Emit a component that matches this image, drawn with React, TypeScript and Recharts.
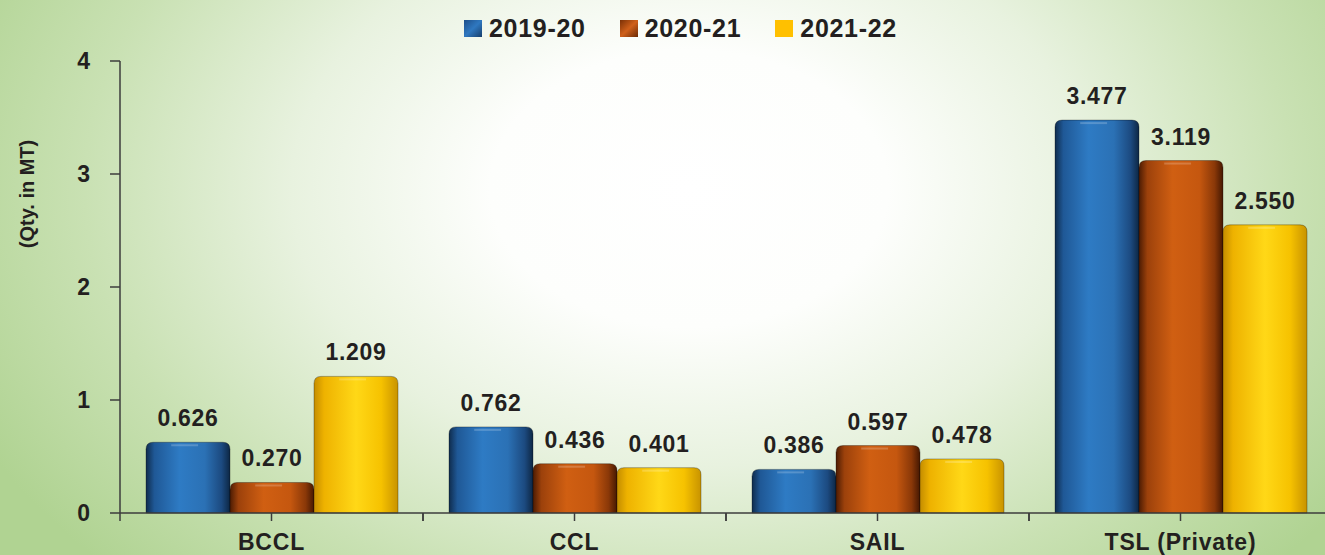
import React from "react";
import { BarChart, Bar, XAxis, YAxis, Legend, LabelList } from "recharts";

// coal washery production, qty in MT
const categories = ["BCCL", "CCL", "SAIL", "TSL (Private)"];
const fy2019 = [0.626, 0.762, 0.386, 3.477];
const fy2020 = [0.27, 0.436, 0.597, 3.119];
const fy2021 = [1.209, 0.401, 0.478, 2.55];
const yTicks = [0, 1, 2, 3, 4];

const series = [
  { key: "fy2019", name: "2019-20", grad: "gBlue" },
  { key: "fy2020", name: "2020-21", grad: "gOrange" },
  { key: "fy2021", name: "2021-22", grad: "gYellow" },
];

const data = categories.map((c, i) => ({
  name: c,
  fy2019: fy2019[i],
  fy2020: fy2020[i],
  fy2021: fy2021[i],
}));

const FONT = '"Liberation Sans", Arial, sans-serif';
const INK = "#231f20";
const AXIS = "#3c3c3c";
const CHART_W = 1332;
const CHART_H = 555;
const YAXIS_W = 120;
const BAND = (CHART_W - YAXIS_W) / categories.length;

const Cylinder = (props: any) => {
  const { x, y, width, height, fill } = props;
  if (!height || height <= 0) return null;
  const r = Math.min(7, height / 2);
  const d = `M${x},${y + height} L${x},${y + r} Q${x},${y} ${x + r},${y} L${x + width - r},${y} Q${x + width},${y} ${x + width},${y + r} L${x + width},${y + height} Z`;
  return (
    <g>
      <path d={d} fill={fill} stroke="rgba(0,0,0,0.3)" strokeWidth={1} />
      <line x1={x + width * 0.3} x2={x + width * 0.62} y1={y + 3} y2={y + 3} stroke="rgba(255,255,255,0.2)" strokeWidth={2} />
    </g>
  );
};

const XTick = (props: any) => {
  const { x, y, payload } = props;
  const half = BAND / 2;
  return (
    <g>
      <line x1={x} x2={x} y1={y} y2={y + 8} stroke={AXIS} strokeWidth={1.5} />
      <line x1={x - half} x2={x - half} y1={y} y2={y + 8} stroke={AXIS} strokeWidth={1.5} />
      <line x1={x + half} x2={x + half} y1={y} y2={y + 8} stroke={AXIS} strokeWidth={1.5} />
      <text x={x} y={y + 37} textAnchor="middle" fontFamily={FONT} fontWeight="bold" fontSize={23} letterSpacing={0.8} fill={INK}>
        {payload.value}
      </text>
    </g>
  );
};

const LegendBox = () => (
  <div style={{ height: 40, display: "flex", alignItems: "flex-start", paddingLeft: 464, fontFamily: FONT }}>
    <svg width={0} height={0} style={{ position: "absolute" }}>
      <defs>
        <linearGradient id="lgBlue" x1="0" y1="0" x2="1" y2="1">
          <stop offset="0%" stopColor="#1d4f8a" />
          <stop offset="50%" stopColor="#2f78c0" />
          <stop offset="100%" stopColor="#173f6c" />
        </linearGradient>
        <linearGradient id="lgOrange" x1="0" y1="0" x2="1" y2="1">
          <stop offset="0%" stopColor="#7a3006" />
          <stop offset="50%" stopColor="#d0601a" />
          <stop offset="100%" stopColor="#6a2905" />
        </linearGradient>
      </defs>
    </svg>
    {series.map((s, i) => (
      <div key={s.key} style={{ display: "flex", alignItems: "center", height: 28, marginRight: i < series.length - 1 ? 34 : 0 }}>
        <svg width={18} height={17} style={{ marginRight: 7 }}>
          <rect width={18} height={17} fill={i === 0 ? "url(#lgBlue)" : i === 1 ? "url(#lgOrange)" : "#ffc000"} />
        </svg>
        <span style={{ fontSize: 25, fontWeight: "bold", color: INK, lineHeight: "28px", letterSpacing: 0.7 }}>{s.name}</span>
      </div>
    ))}
  </div>
);

const YLabel = () => (
  <text
    x={27}
    y={194}
    transform="rotate(-90 27 194)"
    textAnchor="middle"
    dominantBaseline="central"
    fontFamily={FONT}
    fontWeight="bold"
    fontSize={20}
    fill={INK}
  >
    (Qty. in MT)
  </text>
);

export default function App() {
  return (
    <div
      style={{
        position: "absolute",
        left: 0,
        top: 0,
        width: 1325,
        height: CHART_H,
        overflow: "hidden",
        background:
          "radial-gradient(ellipse 60% 100% at 52% 34%, #ffffff 0%, #fdfefc 25%, #e8f2df 50%, #c9e1b3 76%, #b0d392 100%)",
      }}
    >
      <BarChart
        width={CHART_W}
        height={CHART_H}
        data={data}
        margin={{ top: 21, right: 0, bottom: 0, left: 0 }}
        barSize={84}
        barGap={0}
      >
        <defs>
          <linearGradient id="gBlue" x1="0" y1="0" x2="1" y2="0">
            <stop offset="0%" stopColor="#0f2c4d" />
            <stop offset="10%" stopColor="#1f5896" />
            <stop offset="40%" stopColor="#2e7bc4" />
            <stop offset="70%" stopColor="#2b71b5" />
            <stop offset="90%" stopColor="#1c4a80" />
            <stop offset="100%" stopColor="#0d2744" />
          </linearGradient>
          <linearGradient id="gOrange" x1="0" y1="0" x2="1" y2="0">
            <stop offset="0%" stopColor="#4d1c03" />
            <stop offset="10%" stopColor="#9c410b" />
            <stop offset="40%" stopColor="#d05f12" />
            <stop offset="72%" stopColor="#c5570f" />
            <stop offset="90%" stopColor="#8a3808" />
            <stop offset="100%" stopColor="#451802" />
          </linearGradient>
          <linearGradient id="gYellow" x1="0" y1="0" x2="1" y2="0">
            <stop offset="0%" stopColor="#c48d00" />
            <stop offset="12%" stopColor="#eeb200" />
            <stop offset="50%" stopColor="#ffd817" />
            <stop offset="80%" stopColor="#f6c200" />
            <stop offset="100%" stopColor="#c89300" />
          </linearGradient>
        </defs>
        <Legend verticalAlign="top" align="left" content={<LegendBox />} wrapperStyle={{ top: 14, left: 0 }} />
        <XAxis
          dataKey="name"
          height={42}
          tickLine={false}
          tickSize={0}
          tickMargin={0}
          axisLine={{ stroke: AXIS, strokeWidth: 1.5 }}
          tick={<XTick />}
          interval={0}
        />
        <YAxis
          width={YAXIS_W}
          domain={[0, 4]}
          ticks={yTicks}
          tickSize={10}
          tickMargin={20}
          axisLine={{ stroke: AXIS, strokeWidth: 1.5 }}
          tickLine={{ stroke: AXIS, strokeWidth: 1.5 }}
          tick={{ fontFamily: FONT, fontWeight: "bold", fontSize: 23, fill: INK }}
          label={<YLabel />}
        />
        {series.map((s) => (
          <Bar
            key={s.key}
            dataKey={s.key}
            name={s.name}
            fill={`url(#${s.grad})`}
            shape={<Cylinder />}
            isAnimationActive={false}
          >
            <LabelList
              dataKey={s.key}
              position="top"
              offset={16}
              formatter={(v: any) => Number(v).toFixed(3)}
              style={{ fontFamily: FONT, fontWeight: "bold", fontSize: 23, fill: INK, letterSpacing: 0.7 }}
            />
          </Bar>
        ))}
      </BarChart>
    </div>
  );
}
